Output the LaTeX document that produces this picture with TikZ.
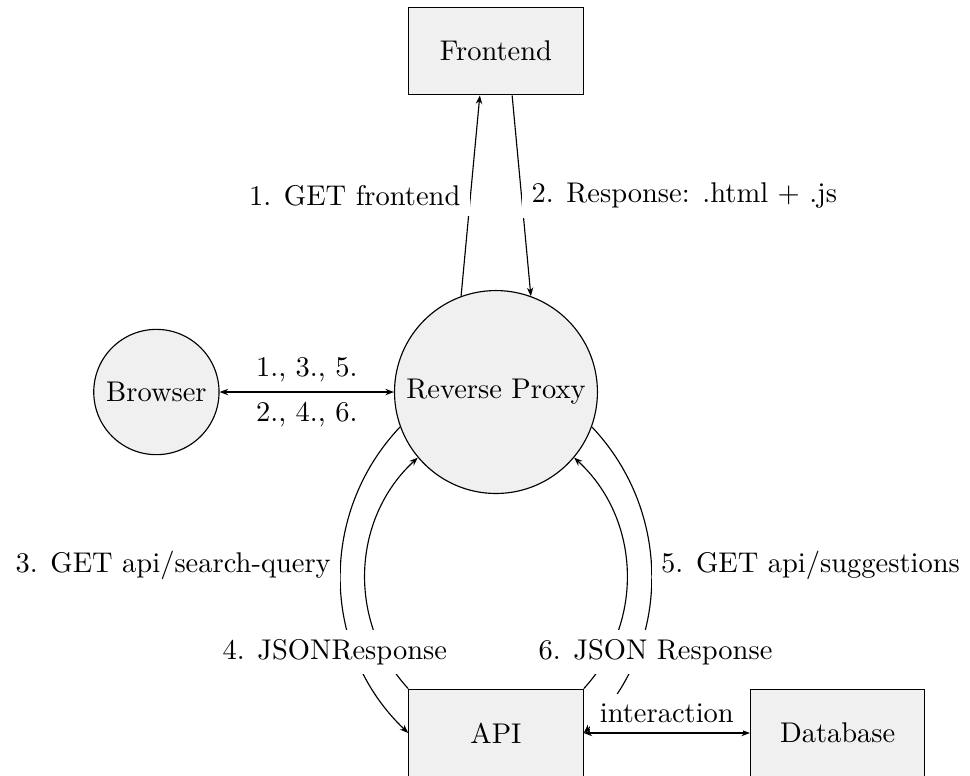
\documentclass[tikz,border=0pt]{standalone}
\usepackage{xcolor}
\usepackage{tikz}
\usetikzlibrary{arrows.meta,positioning}
\definecolor{nodefill}{HTML}{F0F0F0}

\begin{document}
\begin{tikzpicture}[
  client/.style={draw, circle, fill=nodefill},
  service/.style={draw, rectangle, fill=nodefill, minimum width=2.15cm, minimum height=1.08cm},
  lbl/.style={fill=white},
  arr/.style={-{Stealth[length=3pt]}},
  biarr/.style={{Stealth[length=3pt]}-{Stealth[length=3pt]}}
]
  \useasboundingbox (-6.117,-4.724) rectangle (5.846,4.835);
  \clip (-6.117,-4.724) rectangle (5.846,4.835);

  \node[client] (proxy) at (0,0) {Reverse Proxy};
  \node[client, left=2.15cm of proxy] (browser) {Browser};
  \node[service, above=2.4cm of proxy] (frontend) {Frontend};
  \node[service, below=2.4cm of proxy] (api) {API};
  \node[service, right=2.05cm of api] (db) {Database};

  \draw[biarr] (browser) -- node[above] {1., 3., 5.} node[below] {2., 4., 6.} (proxy);
  \draw[arr] (proxy.110) -- node[lbl, left] {1. GET frontend} (frontend.250);
  \draw[arr] (frontend.290) -- node[lbl, right] {2. Response: .html + .js} (proxy.70);
  \draw[arr] (proxy.200) to[bend right=45] node[lbl, left, pos=0.45] {3. GET api/search-query} (api.west);
  \draw[arr] (api.north west) to[bend left=45] node[lbl, pos=0.17, xshift=-0.59cm] {4. JSONResponse} (proxy.220);
  \draw[arr] (proxy.340) to[bend left=45] node[lbl, right, pos=0.45] {5. GET api/suggestions} (api.east);
  \draw[arr] (api.north east) to[bend right=45] node[lbl, pos=0.17, xshift=0.57cm] {6. JSON Response} (proxy.320);
  \draw[biarr] (api) -- node[lbl, above] {interaction} (db);
\end{tikzpicture}
\end{document}
